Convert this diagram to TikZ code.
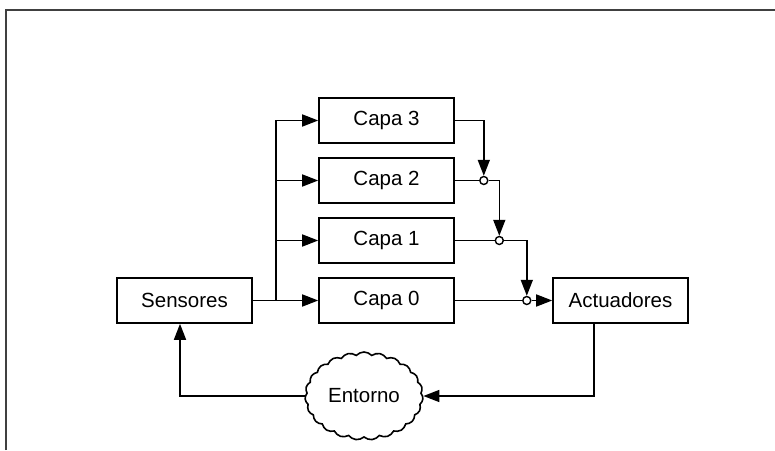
\documentclass[tikz,border=0pt]{standalone}
\usepackage{fontspec}
\setmainfont{Liberation Sans}
\usepackage{tikz}
\usetikzlibrary{shapes.symbols, arrows.meta, positioning}
\tikzstyle{layer} = [rectangle, minimum width=135pt, minimum height=45pt, text centered, draw=black, line width=1.6pt, font=\fontsize{20.5}{24}\selectfont]
\tikzstyle{cloudy} = [cloud, cloud puffs=23, cloud puff arc=95, aspect=1.3, minimum width=118pt, minimum height=88pt, inner sep=0pt, draw=black, line width=1.6pt, font=\fontsize{20.5}{24}\selectfont]
\tikzstyle{junction} = [circle, draw=black, fill=white, line width=1.4pt, inner sep=0pt, minimum size=8pt]
\tikzstyle{wire} = [line width=1.6pt]
\tikzstyle{arrow} = [line width=1.6pt, -{Triangle[length=16pt,width=12pt]}]

\begin{document}
\begin{tikzpicture}[node distance=60pt, x=1pt, y=1pt]
\useasboundingbox (0,0) rectangle (775,450);
\draw [line width=2pt, black!75] (6,0) -- (6,440) -- (775,440);

\node (capa3) [layer] at (386.5,329.5) {Capa 3};
\node (capa2) [layer, below of=capa3] {Capa 2};
\node (capa1) [layer, below of=capa2] {Capa 1};
\node (capa0) [layer, below of=capa1] {Capa 0};
\node (sens) [layer, node distance=202pt, left of=capa0] {Sensores};
\node (act) [layer, node distance=234pt, right of=capa0] {Actuadores};
\node (entorno) [cloudy] at (364,54) {Entorno};

\coordinate (bus) at ([xshift=23pt]sens.east);
\node (j2) [junction] at ([xshift=29pt]capa2.east) {};
\node (j1) [junction] at ([xshift=44.5pt]capa1.east) {};
\node (j0) [junction] at ([xshift=72pt]capa0.east) {};

\draw [wire] (sens.east) -- (bus);
\draw [arrow] (bus) -- (capa0.west);
\draw [arrow] (bus) |- (capa1.west);
\draw [arrow] (bus) |- (capa2.west);
\draw [arrow] (bus) |- (capa3.west);

\draw [arrow] (capa3.east) -| (j2);
\draw [wire] (capa2.east) -- (j2);
\draw [arrow] (j2) -| (j1);
\draw [wire] (capa1.east) -- (j1);
\draw [arrow] (j1) -| (j0);
\draw [wire] (capa0.east) -- (j0);
\draw [arrow] (j0) -- (act);

\draw [arrow] ([xshift=-26.5pt]act.south) |- (entorno);
\draw [arrow] (entorno) -| ([xshift=-4.5pt]sens.south);

\end{tikzpicture}
\end{document}
